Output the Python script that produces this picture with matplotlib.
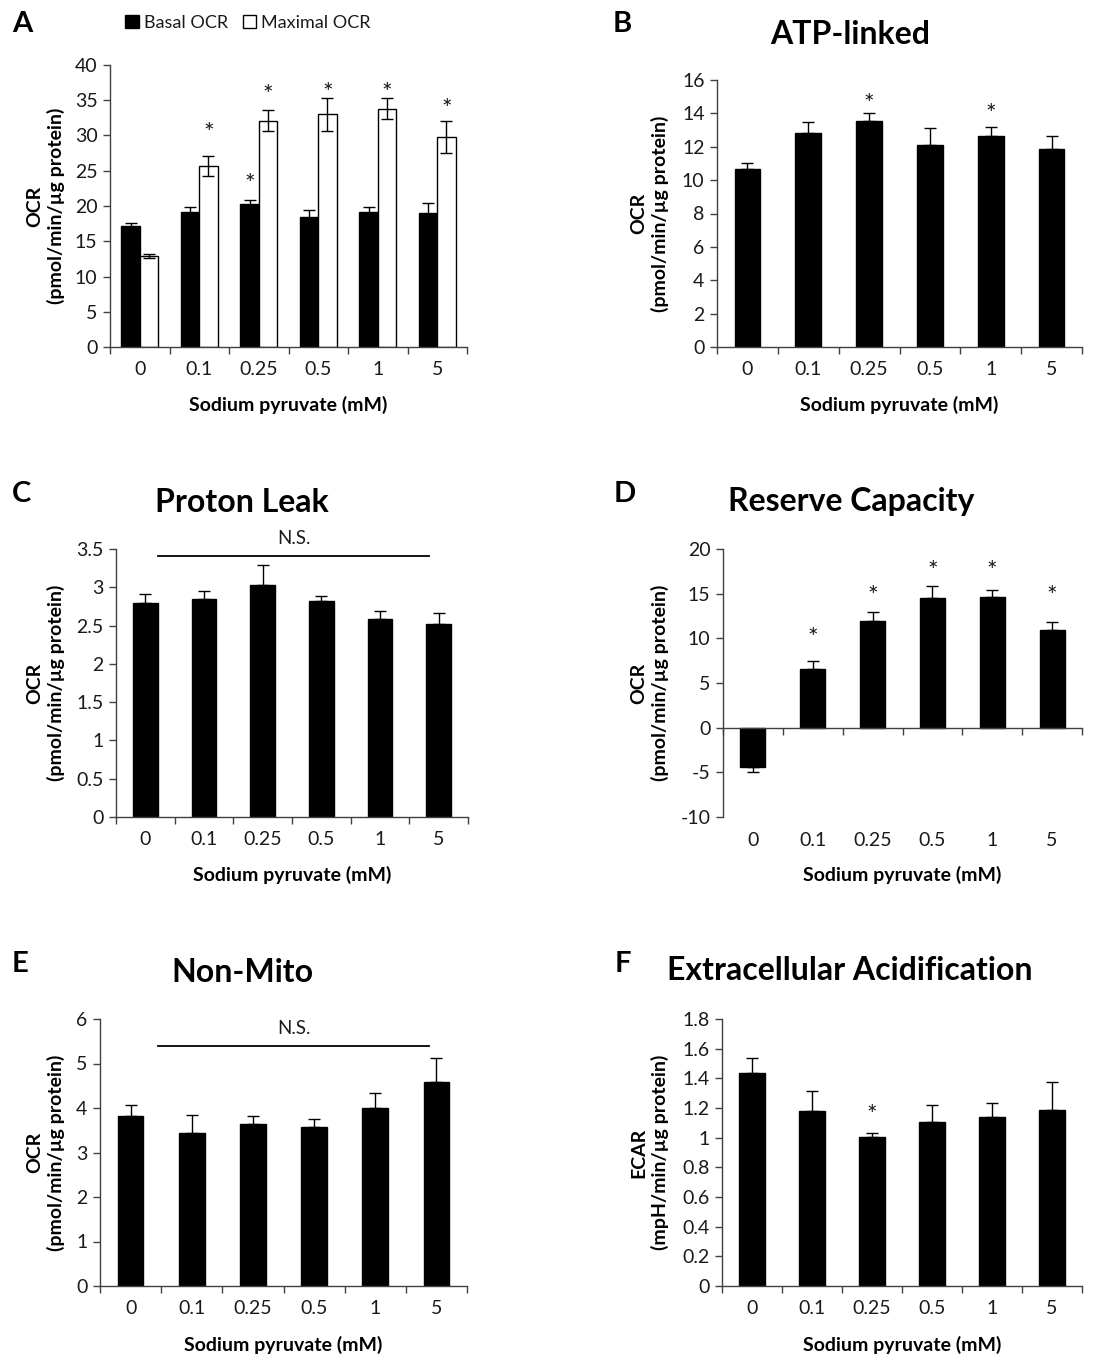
import numpy as np
import matplotlib
matplotlib.use('Agg')
import matplotlib.pyplot as plt
from matplotlib.ticker import FuncFormatter
from matplotlib.patches import Patch

plt.rcParams['font.family'] = ['Lato', 'DejaVu Sans']

conc = ['0', '0.1', '0.25', '0.5', '1', '5']

# A - basal / maximal OCR
basal = [17.2, 19.1, 20.3, 18.5, 19.2, 19.0]
basal_err = [0.4, 0.8, 0.6, 0.9, 0.7, 1.4]
maximal = [12.9, 25.7, 32.1, 33.0, 33.8, 29.8]
maximal_err = [0.3, 1.4, 1.5, 2.3, 1.5, 2.3]
basal_star = {2: 23.7}
maximal_star = {1: 30.9, 2: 36.2, 3: 36.5, 4: 36.5, 5: 34.3}

# B - ATP-linked
atp = [10.68, 12.8, 13.57, 12.1, 12.65, 11.88]
atp_err = [0.33, 0.68, 0.48, 1.0, 0.52, 0.74]
atp_star = {2: 14.8, 4: 14.2}

# C - proton leak
leak = [2.79, 2.85, 3.03, 2.82, 2.58, 2.52]
leak_err = [0.12, 0.10, 0.26, 0.07, 0.11, 0.15]

# D - reserve capacity
reserve = [-4.39, 6.6, 11.9, 14.56, 14.67, 10.88]
reserve_err = [0.6, 0.9, 1.08, 1.31, 0.71, 0.94]
reserve_star = {1: 10.5, 2: 15.1, 3: 17.9, 4: 17.9, 5: 15.1}

# E - non-mito
nonmito = [3.83, 3.43, 3.64, 3.58, 4.01, 4.59]
nonmito_err = [0.24, 0.41, 0.19, 0.17, 0.32, 0.53]

# F - ECAR
ecar = [1.438, 1.18, 1.002, 1.108, 1.142, 1.187]
ecar_err = [0.10, 0.137, 0.032, 0.114, 0.089, 0.186]
ecar_star = {2: 1.18}

W, H = 1105, 1357
fig = plt.figure(figsize=(W / 100, H / 100), dpi=100)

AX_COL = '#404040'
TXT_COL = '#1a1a1a'
TICK_FS = 14
LAB_FS = 14


def add_ax(left, top, right, bottom):
    return fig.add_axes([left / W, 1 - bottom / H, (right - left) / W, (bottom - top) / H])


def style(ax, ymin, ymax, step, ylab, box, label_pad=10):
    left, top, right, bottom = box
    ax.set_xlim(-0.5, 5.5)
    ax.set_ylim(ymin, ymax)
    ax.set_yticks(np.arange(ymin, ymax + step / 2, step))
    ax.yaxis.set_major_formatter(FuncFormatter(lambda v, p: '%g' % round(v, 3)))
    ax.set_xticks(np.arange(-0.5, 6, 1))
    ax.set_xticklabels([])
    ax.set_xticks(range(6), minor=True)
    ax.set_xticklabels(conc, minor=True)
    ax.tick_params(axis='x', which='major', direction='out', length=5, width=1, color=AX_COL)
    ax.tick_params(axis='x', which='minor', length=0, pad=label_pad, labelsize=TICK_FS, labelcolor=TXT_COL)
    ax.tick_params(axis='y', direction='out', length=5, width=1, color=AX_COL,
                   labelsize=TICK_FS, labelcolor=TXT_COL, pad=4)
    for s in ['top', 'right']:
        ax.spines[s].set_visible(False)
    for s in ['left', 'bottom']:
        ax.spines[s].set_color(AX_COL)
        ax.spines[s].set_linewidth(1)
    ax.set_ylabel(ylab, fontsize=LAB_FS, fontweight='bold', va='center', ha='center', linespacing=1.25)
    ax.yaxis.set_label_coords((box_ylab_x[box] - left) / (right - left), 0.5)
    ax.set_xlabel('Sodium pyruvate (mM)', fontsize=LAB_FS, fontweight='bold', va='center')
    ax.xaxis.set_label_coords(0.5, (bottom - box_xlab_y[box]) / (bottom - top))


def bars(ax, vals, errs, width=0.42):
    x = np.arange(len(vals))
    ax.bar(x, vals, width=width, color='black', edgecolor='black', zorder=2)
    vals = np.array(vals)
    errs = np.array(errs)
    lower = np.where(vals < 0, errs, 0)
    upper = np.where(vals >= 0, errs, 0)
    ax.errorbar(x, vals, yerr=[lower, upper], fmt='none', ecolor='black', elinewidth=1,
                capsize=4, capthick=1, zorder=3)


def stars(ax, xs, stardict):
    for i, y in stardict.items():
        ax.annotate('*', (xs[i], y), xytext=(0, -3), textcoords='offset points',
                    ha='center', va='center', fontsize=18, color=TXT_COL)


def ns_line(ax, x0, x1, y, ty):
    ax.plot([x0, x1], [y, y], color='black', lw=1.3, clip_on=False)
    ax.text((x0 + x1) / 2, ty, 'N.S.', ha='center', va='center', fontsize=13.5, color=TXT_COL)


def ftext(x, y, s, **kw):
    fig.text(x / W, 1 - y / H, s, **kw)


boxA = (110, 65, 467, 347)
boxB = (717, 80, 1082, 347)
boxC = (116, 549, 468, 817)
boxD = (723, 549, 1082, 817)
boxE = (100, 1019, 467, 1286)
boxF = (722, 1019, 1082, 1286)
box_ylab_x = {boxA: 46, boxB: 650, boxC: 46, boxD: 650, boxE: 46, boxF: 650}
box_xlab_y = {boxA: 405, boxB: 405, boxC: 875, boxD: 875, boxE: 1345, boxF: 1345}

OCR_LAB = 'OCR\n(pmol/min/\u00b5g protein)'

# A
ax = add_ax(*boxA)
x = np.arange(6)
w = 0.31
ax.bar(x - w / 2, basal, width=w, color='black', edgecolor='black', zorder=2)
ax.bar(x + w / 2, maximal, width=w, color='white', edgecolor='black', lw=1, zorder=2)
ax.errorbar(x - w / 2, basal, yerr=basal_err, fmt='none', ecolor='black', elinewidth=1, capsize=4, capthick=1, zorder=3)
ax.errorbar(x + w / 2, maximal, yerr=maximal_err, fmt='none', ecolor='black', elinewidth=1, capsize=4, capthick=1, zorder=3)
stars(ax, x - w / 2, basal_star)
stars(ax, x + w / 2, maximal_star)
style(ax, 0, 40, 5, OCR_LAB, boxA)
fig.legend(handles=[Patch(facecolor='black', edgecolor='black', label='Basal OCR'),
                    Patch(facecolor='white', edgecolor='black', label='Maximal OCR')],
           loc='center', bbox_to_anchor=(248 / W, 1 - 23 / H), ncol=2, frameon=False,
           fontsize=13, handlelength=0.75, handleheight=0.75, handletextpad=0.3, columnspacing=0.8,
           labelcolor=TXT_COL)

# B
ax = add_ax(*boxB)
bars(ax, atp, atp_err)
stars(ax, x, atp_star)
style(ax, 0, 16, 2, OCR_LAB, boxB)

# C
ax = add_ax(*boxC)
bars(ax, leak, leak_err)
ns_line(ax, 0.22, 4.83, 3.41, 3.64)
style(ax, 0, 3.5, 0.5, OCR_LAB, boxC)

# D
ax = add_ax(*boxD)
bars(ax, reserve, reserve_err)
stars(ax, x, reserve_star)
style(ax, -10, 20, 5, OCR_LAB, boxD, label_pad=10 + (817 - 727) / 1.389)
ax.spines['bottom'].set_position(('data', 0))

# E
ax = add_ax(*boxE)
bars(ax, nonmito, nonmito_err)
ns_line(ax, 0.45, 4.88, 5.39, 5.79)
style(ax, 0, 6, 1, OCR_LAB, boxE)

# F
ax = add_ax(*boxF)
bars(ax, ecar, ecar_err)
stars(ax, x, ecar_star)
style(ax, 0, 1.8, 0.2, 'ECAR\n(mpH/min/\u00b5g protein)', boxF)

# panel letters and titles
for lx, ly, s in [(12, 24, 'A'), (613, 24, 'B'), (12, 494, 'C'), (614, 494, 'D'), (12, 964, 'E'), (615, 964, 'F')]:
    ftext(lx, ly, s, fontsize=21, fontweight='bold', ha='left', va='center')
for tx, ty, s in [(850, 34, 'ATP-linked'), (242, 502, 'Proton Leak'), (851, 502, 'Reserve Capacity'),
                  (242, 972, 'Non-Mito'), (850, 971, 'Extracellular Acidification')]:
    ftext(tx, ty, s, fontsize=23, fontweight='bold', ha='center', va='center')

fig.savefig('out.png', dpi=100)
